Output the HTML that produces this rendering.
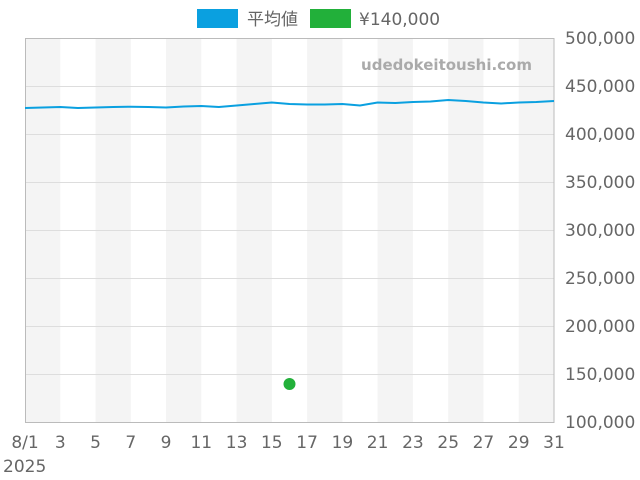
<!DOCTYPE html>
<html><head><meta charset="utf-8"><style>
html,body{margin:0;padding:0;background:#fff;}
svg{display:block;font-family:"DejaVu Sans","Noto Sans CJK JP",sans-serif;}
</style></head><body>
<svg width="640" height="480" xmlns="http://www.w3.org/2000/svg">
<rect x="0" y="0" width="640" height="480" fill="#fff"/>
<g fill="#f4f4f4">
<rect x="25" y="38" width="35.3" height="384"/>
<rect x="95.5" y="38" width="35.3" height="384"/>
<rect x="166" y="38" width="35.3" height="384"/>
<rect x="236.6" y="38" width="35.3" height="384"/>
<rect x="307.1" y="38" width="35.3" height="384"/>
<rect x="377.6" y="38" width="35.3" height="384"/>
<rect x="448.2" y="38" width="35.3" height="384"/>
<rect x="518.7" y="38" width="35.3" height="384"/>
</g>
<g stroke="#dddddd" stroke-width="1">
<line x1="25" y1="86.5" x2="554" y2="86.5"/>
<line x1="25" y1="134.5" x2="554" y2="134.5"/>
<line x1="25" y1="182.5" x2="554" y2="182.5"/>
<line x1="25" y1="230.5" x2="554" y2="230.5"/>
<line x1="25" y1="278.5" x2="554" y2="278.5"/>
<line x1="25" y1="326.5" x2="554" y2="326.5"/>
<line x1="25" y1="374.5" x2="554" y2="374.5"/>
</g>
<rect x="25.5" y="38.5" width="528.5" height="384" fill="none" stroke="#bbbbbb"/>
<text x="532" y="70" text-anchor="end" font-size="15" font-weight="bold" fill="#aaaaaa">udedokeitoushi.com</text>
<polyline fill="none" stroke="#0aa0e0" stroke-width="2" points="25,108 42.6,107.5 60.3,107 77.9,108 95.5,107.5 113.2,107 130.8,106.7 148.4,107 166,107.5 183.7,106.5 201.3,106 218.9,107 236.6,105.5 254.2,104 271.8,102.5 289.5,104 307.1,104.5 324.7,104.5 342.4,104 360,105.5 377.6,102.5 395.3,103 412.9,102 430.5,101.5 448.2,100 465.8,101 483.4,102.5 501.1,103.5 518.7,102.5 536.3,102 554,101"/>
<circle cx="289.5" cy="384" r="6" fill="#22b03a"/>
<g font-size="17" fill="#666">
<text x="25" y="448" text-anchor="middle">8/1</text>
<text x="60.3" y="448" text-anchor="middle">3</text>
<text x="95.5" y="448" text-anchor="middle">5</text>
<text x="130.8" y="448" text-anchor="middle">7</text>
<text x="166" y="448" text-anchor="middle">9</text>
<text x="201.3" y="448" text-anchor="middle">11</text>
<text x="236.6" y="448" text-anchor="middle">13</text>
<text x="271.8" y="448" text-anchor="middle">15</text>
<text x="307.1" y="448" text-anchor="middle">17</text>
<text x="342.4" y="448" text-anchor="middle">19</text>
<text x="377.6" y="448" text-anchor="middle">21</text>
<text x="412.9" y="448" text-anchor="middle">23</text>
<text x="448.2" y="448" text-anchor="middle">25</text>
<text x="483.4" y="448" text-anchor="middle">27</text>
<text x="518.7" y="448" text-anchor="middle">29</text>
<text x="554" y="448" text-anchor="middle">31</text>
<text x="3" y="472">2025</text>
<text x="565" y="44">500,000</text>
<text x="565" y="92">450,000</text>
<text x="565" y="140">400,000</text>
<text x="565" y="188">350,000</text>
<text x="565" y="236">300,000</text>
<text x="565" y="284">250,000</text>
<text x="565" y="332">200,000</text>
<text x="565" y="380">150,000</text>
<text x="565" y="428">100,000</text>
</g>
<rect x="197" y="9" width="41" height="19" fill="#0aa0e0"/>
<text x="247" y="25" font-size="17" fill="#666">平均値</text>
<rect x="310" y="9" width="41" height="19" fill="#22b03a"/>
<text x="359" y="25" font-size="17" fill="#666">¥140,000</text>
</svg>
</body></html>
